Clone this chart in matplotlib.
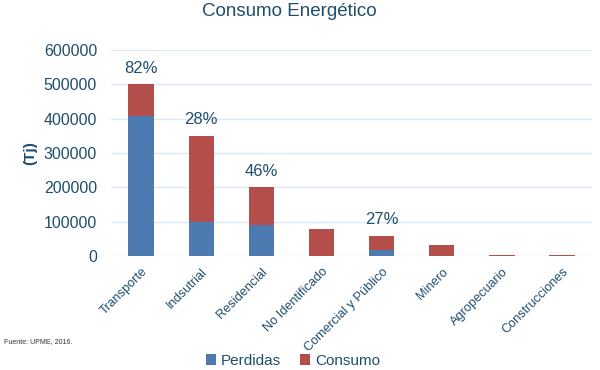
import matplotlib
matplotlib.use("Agg")
import matplotlib.pyplot as plt
import numpy as np

plt.rcParams['font.family'] = ['Liberation Sans', 'DejaVu Sans']

categories = ["Transporte", "Indsutrial", "Residencial", "No Identificado",
              "Comercial y Público", "Minero", "Agropecuario", "Construcciones"]
perdidas = [408000, 98000, 91000, 0, 16500, 0, 0, 0]
consumo_total = [500000, 350000, 200000, 79000, 59000, 31000, 2000, 2000]
consumo = [t - p for t, p in zip(consumo_total, perdidas)]
pct_labels = ["82%", "28%", "46%", "", "27%", "", "", ""]

blue = "#4E7AB2"
red = "#B34E4A"
txt = "#1F4E6E"
grid = "#DCE8F3"

fig = plt.figure(figsize=(6, 3.7), dpi=100)
ax = fig.add_axes([0.185, 0.308, 0.802, 0.557])
x = np.arange(len(categories))
ax.bar(x, perdidas, width=0.42, color=blue, label="Perdidas", zorder=3)
ax.bar(x, consumo, width=0.42, bottom=perdidas, color=red, label="Consumo", zorder=3)

for xi, tot, lab in zip(x, consumo_total, pct_labels):
    if lab:
        ax.annotate(lab, (xi, tot), xytext=(0, 6), textcoords="offset points",
                    ha="center", va="bottom", fontsize=12, color=txt)

ax.set_xlim(-0.5, len(categories) - 0.5)
ax.set_ylim(0, 600000)
ax.set_yticks(np.arange(0, 600001, 100000))
ax.set_yticklabels([str(v) for v in range(0, 600001, 100000)], fontsize=11.5, color=txt)
ax.set_xticks(x)
ax.set_xticklabels(categories, rotation=45, ha="right", rotation_mode="anchor",
                   fontsize=9.2, color=txt)
ax.tick_params(axis='x', length=0, pad=7)
ax.tick_params(axis='y', length=0, pad=10)
ax.yaxis.grid(True, color=grid, linewidth=1, zorder=0)
for s in ax.spines.values():
    s.set_visible(False)
ax.set_ylabel("(Tj)", fontsize=11, fontweight="bold", color=txt, labelpad=5)

fig.text(0.483, 0.97, "Consumo Energético", ha="center", va="center", fontsize=13.5, color=txt)
fig.text(0.007, 0.076, "Fuente: UPME, 2016.", ha="left", va="center", fontsize=5, color="#333333")
fig.legend(loc="center", bbox_to_anchor=(0.488, 0.025), ncol=2, frameon=False,
           fontsize=11, handlelength=0.7, handleheight=0.7, handletextpad=0.3,
           columnspacing=1.2, labelcolor=txt)

fig.savefig("out.png", dpi=100)
